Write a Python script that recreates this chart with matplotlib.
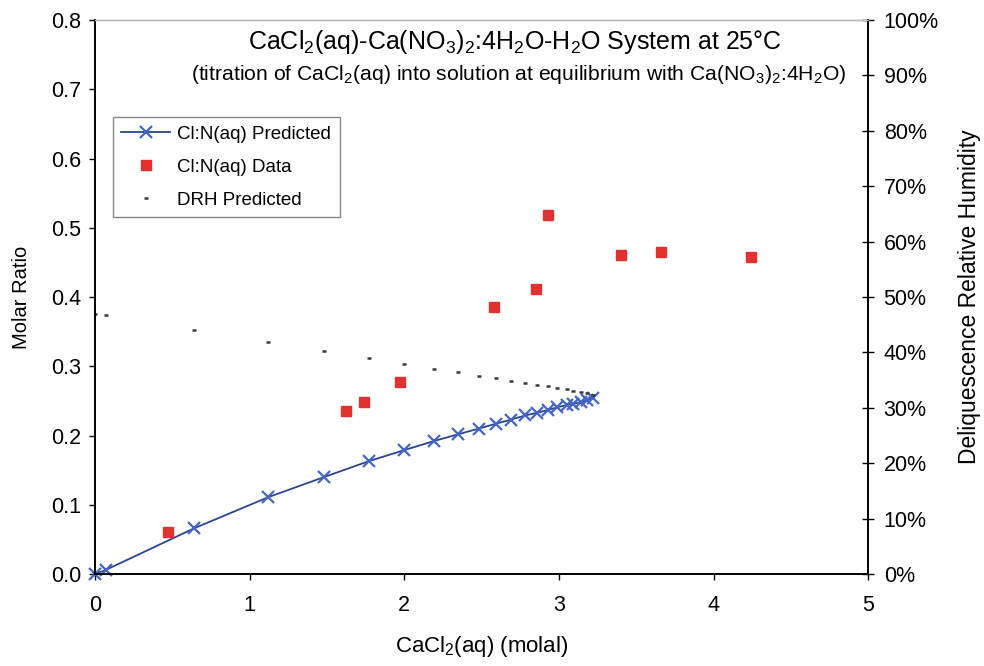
import matplotlib
matplotlib.use("Agg")
import matplotlib.pyplot as plt
from matplotlib.ticker import FuncFormatter, MultipleLocator

plt.rcParams['font.family'] = ['Liberation Sans', 'DejaVu Sans']
plt.rcParams['mathtext.default'] = 'regular'

# titration points (CaCl2 molality), model curve
cacl2_pred = [0, 0.07, 0.64, 1.12, 1.48, 1.77, 2.0, 2.19, 2.35, 2.48, 2.59,
              2.69, 2.78, 2.86, 2.93, 2.99, 3.05, 3.09, 3.14, 3.18, 3.22]
ratio_pred = [0, 0.006, 0.066, 0.111, 0.140, 0.163, 0.179, 0.192, 0.202, 0.210, 0.217,
              0.223, 0.229, 0.233, 0.237, 0.241, 0.244, 0.246, 0.248, 0.251, 0.254]
drh_pred = [47.0, 46.7, 44.0, 41.9, 40.3, 39.0, 37.9, 37.1, 36.4, 35.8, 35.3,
            34.9, 34.5, 34.1, 33.9, 33.6, 33.4, 33.1, 32.9, 32.6, 32.3]

# measured Cl:N
cacl2_data = [0.47, 1.62, 1.74, 1.97, 2.58, 2.85, 2.93, 3.40, 3.66, 4.24]
ratio_data = [0.061, 0.236, 0.249, 0.278, 0.386, 0.412, 0.518, 0.461, 0.465, 0.458]

fig = plt.figure(figsize=(9.84, 6.66), dpi=100)
ax = fig.add_axes([0.0965, 0.138, 0.786, 0.832])
ax2 = ax.twinx()

l1, = ax.plot(cacl2_pred, ratio_pred, '-', color='#2a4590', lw=1.3, clip_on=False,
              marker='x', ms=8, mew=1.6, mec='#4466c4', label='Cl:N(aq) Predicted')
l2, = ax.plot(cacl2_data, ratio_data, 's', color='#e2322f', ms=6.5, ls='none',
              label='Cl:N(aq) Data')
l3, = ax2.plot(cacl2_pred, drh_pred, '_', color='#3a3a3a', ms=3.5, mew=1.8, ls='none',
               label='DRH Predicted')

ax.set_xlim(0, 5)
ax.set_ylim(0, 0.8)
ax2.set_ylim(0, 100)
ax.xaxis.set_major_locator(MultipleLocator(1))
ax.yaxis.set_major_locator(MultipleLocator(0.1))
ax2.yaxis.set_major_locator(MultipleLocator(10))
ax.yaxis.set_major_formatter(FuncFormatter(lambda v, p: f'{v:.1f}'))
ax2.yaxis.set_major_formatter(FuncFormatter(lambda v, p: f'{v:.0f}%'))

ax.tick_params(axis='y', direction='out', length=4, width=1, labelsize=15.5, pad=6)
ax.tick_params(axis='x', direction='out', length=4, width=1, labelsize=15.5, pad=11)
ax2.tick_params(axis='y', direction='inout', length=8, width=1, labelsize=15.5, pad=7)
for a in (ax, ax2):
    for s in a.spines.values():
        s.set_linewidth(1.2)
    a.spines['top'].set_color('#bbbbbb')
    a.spines['top'].set_linewidth(1.0)

ax.set_xlabel('CaCl$_2$(aq) (molal)', fontsize=16, labelpad=13)
ax.set_ylabel('Molar Ratio', fontsize=14.5, labelpad=14)
ax2.set_ylabel('Deliquescence Relative Humidity', fontsize=16.5, labelpad=14)

ax.text(0.543, 0.960, 'CaCl$_2$(aq)-Ca(NO$_3$)$_2$:4H$_2$O-H$_2$O System at 25°C',
        transform=ax.transAxes, ha='center', va='center', fontsize=18)
ax.text(0.548, 0.901,
        '(titration of CaCl$_2$(aq) into solution at equilibrium with Ca(NO$_3$)$_2$:4H$_2$O)',
        transform=ax.transAxes, ha='center', va='center', fontsize=15.2)

leg = ax2.legend(handles=[l1, l2, l3], loc='upper left', bbox_to_anchor=(0.023, 0.825),
                 borderaxespad=0, fontsize=13.5, fancybox=False, framealpha=1,
                 edgecolor='#888888', handlelength=2.6, handletextpad=0.4,
                 borderpad=0.45, labelspacing=0.85)
leg.get_frame().set_linewidth(1.0)

fig.savefig('out.png', dpi=100)
